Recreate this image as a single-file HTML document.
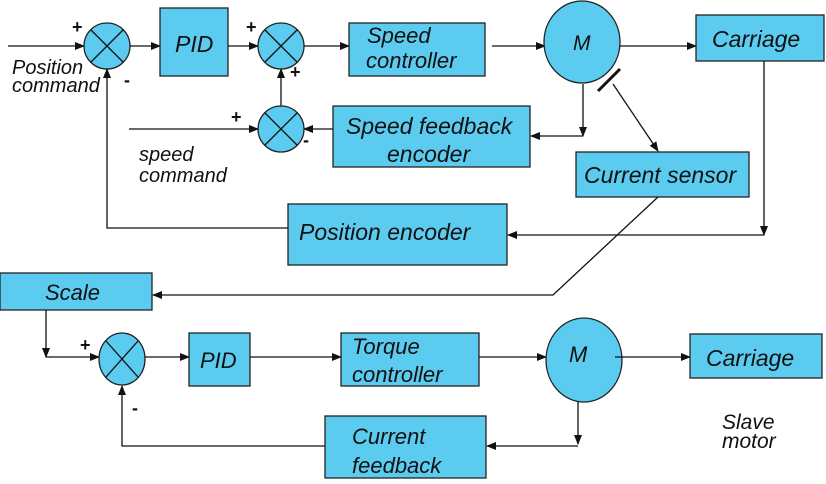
<!DOCTYPE html>
<html><head><style>
html,body{margin:0;padding:0;background:#fff;}
svg{display:block;}
text{font-family:"Liberation Sans",sans-serif;font-style:italic;fill:#111;}
.b{fill:#5bcbf0;stroke:#222;stroke-width:1.3;}
.l{stroke:#111;stroke-width:1.3;fill:none;}
.up{font-style:normal;font-weight:bold;}
</style></head><body>
<svg width="826" height="484" viewBox="0 0 826 484" xmlns="http://www.w3.org/2000/svg">
<defs>
<marker id="a" markerWidth="10" markerHeight="8" refX="9" refY="4" orient="auto" markerUnits="userSpaceOnUse">
<path d="M0,0 L10,4 L0,8 z" fill="#111"/></marker>
</defs>
<!-- top row -->
<line class="l" x1="8" y1="46" x2="84" y2="46" marker-end="url(#a)"/>
<circle class="b" cx="107" cy="46" r="23"/>
<line class="l" x1="91" y1="30" x2="123" y2="62"/><line class="l" x1="123" y1="30" x2="91" y2="62"/>
<line class="l" x1="130" y1="46" x2="160" y2="46" marker-end="url(#a)"/>
<rect class="b" x="160" y="8" width="68" height="68"/>
<text x="175" y="52" font-size="23">PID</text>
<line class="l" x1="228" y1="46" x2="258" y2="46" marker-end="url(#a)"/>
<circle class="b" cx="281" cy="46" r="23"/>
<line class="l" x1="265" y1="30" x2="297" y2="62"/><line class="l" x1="297" y1="30" x2="265" y2="62"/>
<line class="l" x1="304" y1="46" x2="349" y2="46" marker-end="url(#a)"/>
<rect class="b" x="349" y="23" width="136" height="53"/>
<text x="367" y="43" font-size="22">Speed</text>
<text x="366" y="68" font-size="22">controller</text>
<line class="l" x1="492" y1="46" x2="545" y2="46" marker-end="url(#a)"/>
<ellipse class="b" cx="582" cy="42" rx="38" ry="41"/>
<text x="573" y="50" font-size="21">M</text>
<line class="l" x1="620" y1="46" x2="696" y2="46" marker-end="url(#a)"/>
<rect class="b" x="696" y="15" width="128" height="46"/>
<text x="712" y="47" font-size="23">Carriage</text>
<polyline class="l" points="764,61 764,235" marker-end="url(#a)"/>
<line class="l" x1="764" y1="235" x2="508" y2="235" marker-end="url(#a)"/>
<rect class="b" x="288" y="204" width="219" height="61"/>
<text x="299" y="240" font-size="23">Position encoder</text>
<polyline class="l" points="288,228 107,228 107,69" marker-end="url(#a)"/>
<!-- speed feedback -->
<polyline class="l" points="583,84 583,136" marker-end="url(#a)"/>
<line class="l" x1="583" y1="136" x2="531" y2="136" marker-end="url(#a)"/>
<rect class="b" x="333" y="106" width="197" height="61"/>
<text x="346" y="134" font-size="23">Speed feedback</text>
<text x="387" y="162" font-size="23">encoder</text>
<line class="l" x1="333" y1="129" x2="304" y2="129" marker-end="url(#a)"/>
<circle class="b" cx="281" cy="129" r="23"/>
<line class="l" x1="265" y1="113" x2="297" y2="145"/><line class="l" x1="297" y1="113" x2="265" y2="145"/>
<line class="l" x1="129" y1="129" x2="258" y2="129" marker-end="url(#a)"/>
<line class="l" x1="281" y1="106" x2="281" y2="69" marker-end="url(#a)"/>
<text x="139" y="161" font-size="20">speed</text>
<text x="139" y="182" font-size="20">command</text>
<text x="12" y="74" font-size="20">Position</text>
<text x="12" y="92" font-size="20">command</text>
<!-- signs -->
<text class="up" x="72" y="33" font-size="18">+</text>
<text class="up" x="124" y="86" font-size="18">-</text>
<text class="up" x="246" y="33" font-size="18">+</text>
<text class="up" x="290" y="78" font-size="18">+</text>
<text class="up" x="231" y="123" font-size="18">+</text>
<text class="up" x="303" y="146" font-size="18">-</text>
<!-- current sensor -->
<line x1="598" y1="91" x2="620" y2="69" stroke="#111" stroke-width="3"/>
<line class="l" x1="613" y1="84" x2="658" y2="151" marker-end="url(#a)"/>
<rect class="b" x="576" y="152" width="173" height="45"/>
<text x="584" y="183" font-size="23">Current sensor</text>
<polyline class="l" points="658,197 553,295 153,295" stroke-width="1" marker-end="url(#a)"/>
<!-- bottom -->
<rect class="b" x="0" y="273" width="152" height="37"/>
<text x="45" y="300" font-size="22">Scale</text>
<line class="l" x1="46" y1="310" x2="46" y2="357" marker-end="url(#a)"/>
<line class="l" x1="46" y1="357" x2="99" y2="357" marker-end="url(#a)"/>
<ellipse class="b" cx="122" cy="359" rx="23" ry="26"/>
<line class="l" x1="106" y1="341" x2="138" y2="377"/><line class="l" x1="138" y1="341" x2="106" y2="377"/>
<text class="up" x="80" y="351" font-size="18">+</text>
<text class="up" x="132" y="414" font-size="18">-</text>
<line class="l" x1="145" y1="357" x2="189" y2="357" marker-end="url(#a)"/>
<rect class="b" x="189" y="333" width="61" height="53"/>
<text x="200" y="368" font-size="22">PID</text>
<line class="l" x1="250" y1="357" x2="341" y2="357" marker-end="url(#a)"/>
<rect class="b" x="341" y="333" width="138" height="53"/>
<text x="352" y="354" font-size="22">Torque</text>
<text x="352" y="382" font-size="22">controller</text>
<line class="l" x1="479" y1="357" x2="546" y2="357" marker-end="url(#a)"/>
<ellipse class="b" cx="584" cy="360" rx="38" ry="42"/>
<text x="569" y="362" font-size="22">M</text>
<line class="l" x1="615" y1="357" x2="690" y2="357" marker-end="url(#a)"/>
<rect class="b" x="690" y="334" width="132" height="44"/>
<text x="706" y="366" font-size="23">Carriage</text>
<line class="l" x1="578" y1="402" x2="578" y2="444" stroke-width="1" marker-end="url(#a)"/>
<line class="l" x1="578" y1="446" x2="487" y2="446" marker-end="url(#a)"/>
<rect class="b" x="325" y="416" width="161" height="62"/>
<text x="352" y="444" font-size="22">Current</text>
<text x="352" y="473" font-size="22">feedback</text>
<polyline class="l" points="325,446 122,446 122,386" marker-end="url(#a)"/>
<text x="722" y="429" font-size="21">Slave</text>
<text x="722" y="448" font-size="21">motor</text>
</svg>
</body></html>
